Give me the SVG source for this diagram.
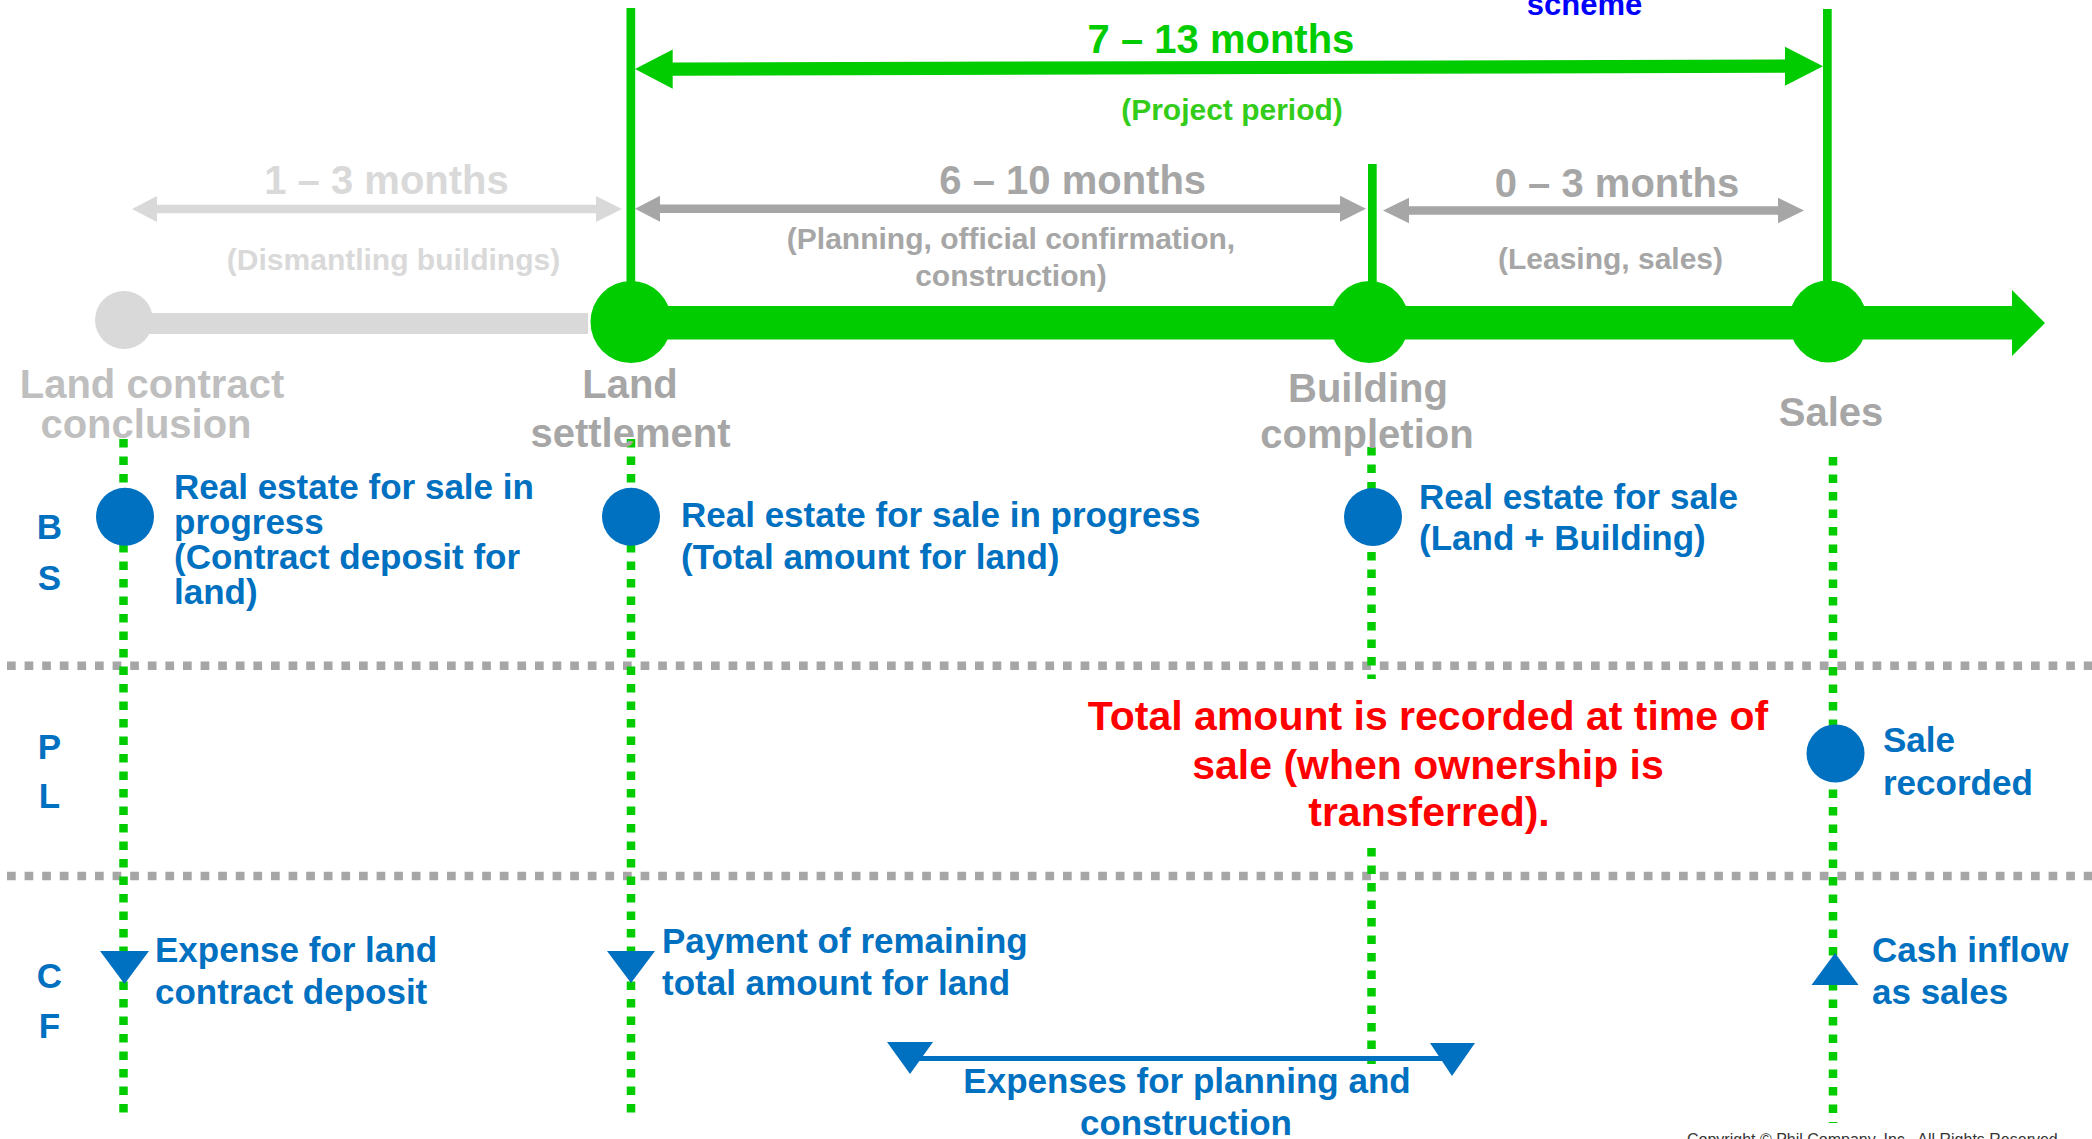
<svg xmlns="http://www.w3.org/2000/svg" width="2092" height="1139" viewBox="0 0 2092 1139">
<style>
text{font-family:"Liberation Sans",Arial,sans-serif;font-weight:bold}
.m{font-size:40px;text-anchor:middle}
.s{font-size:30px;text-anchor:middle}
.lbl{font-size:40px;text-anchor:middle;fill:#A6A6A6}
.b{font-size:35px;fill:#0070C0}
.ax{font-size:35px;fill:#0070C0;text-anchor:middle}
.red{font-size:41px;fill:#FF0000;text-anchor:middle}
.gdot{stroke:#00CC00;stroke-width:8.5;stroke-dasharray:8.5 9;fill:none}
.hdot{stroke:#A6A6A6;stroke-width:8.5;stroke-dasharray:8.7 8.9;fill:none}
.g{fill:#00CC00}
.bl{fill:#0070C0}
</style>
<rect width="2092" height="1139" fill="#FFFFFF"/>

<g id="separators">
<line class="hdot" x1="7" y1="665.8" x2="2092" y2="665.8"/>
<line class="hdot" x1="7" y1="876" x2="2092" y2="876"/>
</g>

<g id="row-labels">
<text class="ax" x="49.5" y="539">B</text>
<text class="ax" x="49.5" y="590">S</text>
<text class="ax" x="49.5" y="759">P</text>
<text class="ax" x="49.5" y="808">L</text>
<text class="ax" x="49.5" y="987.5">C</text>
<text class="ax" x="49.5" y="1037.5">F</text>
</g>

<g id="connectors">
<line class="gdot" x1="123.5" y1="439" x2="123.5" y2="1118"/>
<line class="gdot" x1="631" y1="439" x2="631" y2="1118"/>
<line class="gdot" x1="1371.5" y1="447" x2="1371.5" y2="679"/>
<line class="gdot" x1="1371.5" y1="848" x2="1371.5" y2="1064"/>
<line class="gdot" x1="1833" y1="457" x2="1833" y2="1123"/>
<rect class="g" x="626.5" y="8" width="8.7" height="274"/>
<rect class="g" x="1368" y="164" width="8.7" height="118"/>
<rect class="g" x="1823" y="9" width="8.7" height="273"/>
<polygon class="g" points="635,69 672.7,49.5 672.7,62.5 1785,59.5 1785,46.7 1823,66.2 1785,85.7 1785,72.7 672.7,75.7 672.7,88.7"/>
<polygon fill="#D9D9D9" points="132,209 157,196 157,204.7 596,204.7 596,196 622,209 596,222 596,213.3 157,213.3 157,222"/>
<polygon fill="#A6A6A6" points="635,208.7 660,195.7 660,204.4 1340,204.4 1340,195.7 1366,208.7 1340,221.7 1340,213 660,213 660,221.7"/>
<polygon fill="#A6A6A6" points="1383,210.5 1409,197.8 1409,206.2 1778,206.2 1778,197.8 1804,210.5 1778,223.2 1778,214.8 1409,214.8 1409,223.2"/>
<rect fill="#D9D9D9" x="124" y="313" width="464" height="21"/>
<polygon class="g" points="631,306 2012,306 2012,290 2045,323 2012,356 2012,339.5 631,339.5"/>
<line x1="910" y1="1058.5" x2="1452" y2="1058.5" stroke="#0070C0" stroke-width="5"/>
<polygon class="bl" points="887,1042 933,1042 910,1074"/>
<polygon class="bl" points="1430,1043 1475,1043 1452,1076"/>
<polygon class="bl" points="100,951 149,951 124.5,984"/>
<polygon class="bl" points="607,951 655,951 631,983"/>
<polygon class="bl" points="1811.5,985 1858.5,985 1835,953"/>
</g>

<g id="period-labels">
<text class="m" x="1221" y="53" fill="#00CC00">7 – 13 months</text>
<text class="s" x="1232" y="120" fill="#33CC1A">(Project period)</text>
<text x="1584.5" y="15" font-size="31" text-anchor="middle" fill="#0000FF">scheme</text>
<text class="m" x="386.5" y="194" fill="#D9D9D9">1 – 3 months</text>
<text class="s" x="393.5" y="270" fill="#D9D9D9">(Dismantling buildings)</text>
<text class="m" x="1072.7" y="194" fill="#A6A6A6">6 – 10 months</text>
<text class="s" x="1011" y="249" fill="#A6A6A6">(Planning, official confirmation,</text>
<text class="s" x="1011" y="286" fill="#A6A6A6">construction)</text>
<text class="m" x="1617" y="196.5" fill="#A6A6A6">0 – 3 months</text>
<text class="s" x="1610.5" y="269" fill="#A6A6A6">(Leasing, sales)</text>
</g>

<g id="node-land-contract">
<circle cx="124" cy="320" r="29" fill="#D9D9D9"/>
<text class="lbl" x="152" y="398" style="fill:#BFBFBF">Land contract</text>
<text class="lbl" x="146" y="438" style="fill:#BFBFBF">conclusion</text>
</g>

<g id="node-land-settlement">
<ellipse class="g" cx="631" cy="322" rx="40.5" ry="41"/>
<text class="lbl" x="630" y="398">Land</text>
<text class="lbl" x="630.5" y="447">settlement</text>
</g>

<g id="node-building-completion">
<ellipse class="g" cx="1369.5" cy="322" rx="39.5" ry="41"/>
<text class="lbl" x="1368" y="402">Building</text>
<text class="lbl" x="1367" y="448">completion</text>
</g>

<g id="node-sales">
<ellipse class="g" cx="1828" cy="321.5" rx="39" ry="41"/>
<text class="lbl" x="1831" y="426">Sales</text>
</g>

<g id="bs-land-contract">
<circle class="bl" cx="125" cy="516.7" r="29"/>
<text class="b" x="174" y="499">Real estate for sale in</text>
<text class="b" x="174" y="534">progress</text>
<text class="b" x="174" y="569">(Contract deposit for</text>
<text class="b" x="174" y="604">land)</text>
</g>

<g id="bs-land-settlement">
<circle class="bl" cx="631" cy="516.7" r="29"/>
<text class="b" x="681" y="527">Real estate for sale in progress</text>
<text class="b" x="681" y="569">(Total amount for land)</text>
</g>

<g id="bs-building">
<circle class="bl" cx="1373" cy="517" r="29"/>
<text class="b" x="1419" y="509">Real estate for sale</text>
<text class="b" x="1419" y="550">(Land + Building)</text>
</g>

<g id="pl-sale">
<circle class="bl" cx="1835.5" cy="753.4" r="29"/>
<text class="b" x="1883" y="752">Sale</text>
<text class="b" x="1883" y="795">recorded</text>
</g>

<g id="pl-note">
<text class="red" x="1428" y="730">Total amount is recorded at time of</text>
<text class="red" x="1428" y="779">sale (when ownership is</text>
<text class="red" x="1429" y="826">transferred).</text>
</g>

<g id="cf-land-contract">
<text class="b" x="155" y="962">Expense for land</text>
<text class="b" x="155" y="1004">contract deposit</text>
</g>

<g id="cf-land-settlement">
<text class="b" x="662" y="953">Payment of remaining</text>
<text class="b" x="662" y="995">total amount for land</text>
</g>

<g id="cf-expenses">
<text class="ax" x="1187" y="1093">Expenses for planning and</text>
<text class="ax" x="1186" y="1135">construction</text>
</g>

<g id="cf-sales">
<text class="b" x="1872" y="962">Cash inflow</text>
<text class="b" x="1872" y="1004">as sales</text>
</g>

<text x="1687" y="1144.5" font-size="16" style="font-weight:normal" fill="#333333" xml:space="preserve">Copyright © Phil Company, Inc.  All Rights Reserved.</text>
</svg>
